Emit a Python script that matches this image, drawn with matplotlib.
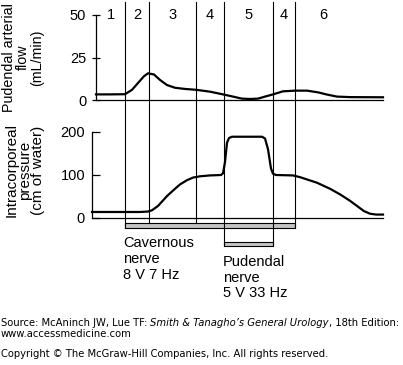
import matplotlib
matplotlib.use("Agg")
import matplotlib.pyplot as plt
from matplotlib.patches import Rectangle

# ---------------- data ----------------
# time axis in arbitrary units
flow_t = [4, 18, 33, 40, 46, 52, 56, 62, 68, 75, 83, 93, 104, 118, 131, 141, 150,
          158, 166, 173, 181, 191, 203, 215, 226, 235, 245, 258, 291]
flow = [3.3, 3.3, 3.4, 6, 10, 14, 15.7, 15, 11.8, 8.8, 7.2, 6.5, 6, 4.9, 3.3, 2,
        0.8, 0.6, 0.8, 2, 3.3, 5.1, 5.5, 5.5, 4.5, 3.2, 2, 1.7, 1.6]

press_t = [0, 48, 56, 60, 66, 75, 83, 88, 95, 101, 108, 118, 129, 131, 133, 135,
           137, 140, 170, 173, 176, 179, 181, 184, 201, 208, 225, 238, 248, 258,
           265, 272, 278, 284, 291]
pressure = [14, 14, 15, 18, 28, 51, 68, 78, 88, 94, 97, 99, 100, 104, 130, 175,
            186, 189, 189, 185, 160, 115, 103, 100, 99, 95, 82, 68, 55, 40, 28,
            16, 10, 8, 8]

phase_bounds = [33, 57, 104, 132, 181, 203]
phase_labels = ["1", "2", "3", "4", "5", "4", "6"]

flow_ticks = [0, 25, 50]
press_ticks = [0, 100, 200]

cav_stim = (33, 203)   # cavernous nerve stimulation window
pud_stim = (132, 181)  # pudendal nerve stimulation window

# ---------------- figure ----------------
W, H = 403, 365
fig = plt.figure(figsize=(W / 100, H / 100), dpi=100)
FONT = "Liberation Sans"
plt.rcParams["font.family"] = [FONT, "DejaVu Sans"]

def fy(py):
    return 1 - py / H

XL = (-92, 311)
ax1 = fig.add_axes([0, fy(117), 1, 117 / H])
ax2 = fig.add_axes([0, fy(300), 1, (300 - 117) / H])
ax1.set_xlim(*XL)
ax2.set_xlim(*XL)
ax1.set_ylim((100 - 117) / 1.7, (100 - 0) / 1.7)
ax2.set_ylim((218 - 300) / 0.43, (218 - 117) / 0.43)

for ax in (ax1, ax2):
    ax.patch.set_alpha(0)
    for s in ("top", "right", "bottom"):
        ax.spines[s].set_visible(False)
    ax.set_xticks([])
    ax.spines["left"].set_linewidth(0.9)

# top panel
ax1.spines["left"].set_position(("data", 4))
ax1.spines["left"].set_bounds(0, 50)
ax1.set_yticks(flow_ticks)
ax1.tick_params(axis="y", direction="inout", length=6, width=0.9, pad=4,
                labelsize=10.5)
ax1.plot([flow_t[0], flow_t[-1]], [0, 0], color="black", lw=0.9)
ax1.plot(flow_t, flow, color="black", lw=1.6, solid_joinstyle="round")
top_frac = 1 - 2 / 117
for b in phase_bounds:
    ax1.axvline(b, ymin=0, ymax=top_frac, color="black", lw=0.8)
mids = [(a + b) / 2 for a, b in zip([4] + phase_bounds[:-1], phase_bounds)]
mids.append(phase_bounds[-1] + 28)
for m, lab in zip(mids, phase_labels):
    ax1.text(m, 50, lab, ha="center", va="center", fontsize=10.5)

# bottom panel
ax2.spines["left"].set_position(("data", 0))
ax2.spines["left"].set_bounds(0, 200)
ax2.set_yticks(press_ticks)
ax2.tick_params(axis="y", direction="in", length=6, width=0.9, pad=5,
                labelsize=10.5)
ax2.plot([press_t[0], press_t[-1]], [0, 0], color="black", lw=0.9)
ax2.plot(press_t, pressure, color="black", lw=1.6, solid_joinstyle="round")
ytop = ax2.get_ylim()[1]
cav_lo, cav_hi = -24, -12
pud_lo, pud_hi = -65, -55
for b in phase_bounds:
    if b in cav_stim:
        lo = cav_lo
    elif b in pud_stim:
        lo = pud_lo
    else:
        lo = cav_hi
    ax2.plot([b, b], [lo, ytop], color="black", lw=0.8)
ax2.add_patch(Rectangle((cav_stim[0], cav_lo), cav_stim[1] - cav_stim[0],
                        cav_hi - cav_lo, facecolor="#c4c4c4",
                        edgecolor="black", lw=0.8))
ax2.add_patch(Rectangle((pud_stim[0], pud_lo), pud_stim[1] - pud_stim[0],
                        pud_hi - pud_lo, facecolor="#c4c4c4",
                        edgecolor="black", lw=0.8))
ax2.text(cav_stim[0] - 2, -43, "Cavernous\nnerve\n8 V 7 Hz", ha="left",
         va="top", fontsize=10.5, linespacing=1.15)
ax2.text(pud_stim[0] - 1, -86, "Pudendal\nnerve\n5 V 33 Hz", ha="left",
         va="top", fontsize=10.5, linespacing=1.15)

# y labels
fig.text(23 / W, fy(57.5), "Pudendal arterial\nflow\n(mL/min)", rotation=90,
         ha="center", va="center", multialignment="center", fontsize=10.3,
         linespacing=1.0)
fig.text(25 / W, fy(170), "Intracorporeal\npressure\n(cm of water)",
         rotation=90, ha="center", va="center", multialignment="center",
         fontsize=11, linespacing=0.95)

# footer
FF = ["DejaVu Sans"]
fig.canvas.draw()
r = fig.canvas.get_renderer()
parts = [("Source: McAninch JW, Lue TF: ", "normal"),
         ("Smith & Tanagho\u2019s General Urology", "italic"),
         (", 18th Edition:", "normal")]

def measure(fs):
    tot = 0
    for txt, st in parts:
        t = fig.text(0, 0, txt, family=FF, style=st, fontsize=fs)
        tot += t.get_window_extent(renderer=r).width
        t.remove()
    return tot

FS = 6.2 * 400 / measure(6.2)
x = 1
for txt, st in parts:
    t = fig.text(x / W, fy(326), txt, family=FF, style=st, fontsize=FS,
                 ha="left", va="baseline")
    x += t.get_window_extent(renderer=r).width
fig.text(1 / W, fy(337), "www.accessmedicine.com", family=FF, fontsize=FS,
         ha="left", va="baseline")
fig.text(1 / W, fy(357), "Copyright \u00a9 The McGraw-Hill Companies, Inc. All rights reserved.",
         family=FF, fontsize=FS, ha="left", va="baseline")

fig.savefig("out.png", dpi=100)
